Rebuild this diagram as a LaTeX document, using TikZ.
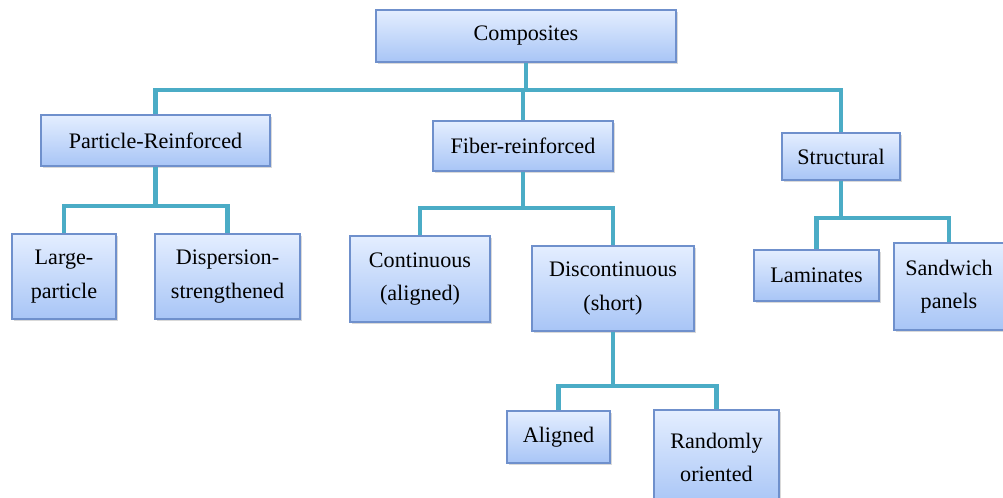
\documentclass[tikz,border=0pt]{standalone}
\usepackage{fontspec}
\setmainfont{Liberation Serif}
\usepackage{xcolor}
\usepackage{tikz}
\usetikzlibrary{shadows}

\definecolor{boxtop}{HTML}{E4EEFF}
\definecolor{boxbot}{HTML}{A8C5F6}
\definecolor{boxline}{HTML}{6F90CC}
\definecolor{linkcol}{HTML}{4BACC6}

\begin{document}
\begin{tikzpicture}[
  every node/.style={font=\fontsize{12.6}{19}\selectfont},
  box/.style={rectangle, draw=boxline, line width=0.6pt, top color=boxtop, bottom color=boxbot,
              drop shadow={shadow xshift=1.2pt, shadow yshift=-1.2pt, opacity=0.3},
              inner sep=2pt, align=center},
  link/.style={draw=linkcol, line width=2.8pt},
]
\useasboundingbox (0,0) rectangle (20.06,-9.96);
% top level
\node[box, minimum width=6.0cm, minimum height=1.04cm] (comp) at (10.52,-0.72) {Composites};
% second level
\node[box, minimum width=4.58cm, minimum height=1.02cm] (part) at (3.11,-2.81) {Particle-Reinforced};
\node[box, minimum width=3.6cm, minimum height=1.0cm] (fiber) at (10.46,-2.92) {Fiber-reinforced};
\node[box, minimum width=2.36cm, minimum height=0.94cm] (struct) at (16.82,-3.13) {Structural};
% third level
\node[box, minimum width=2.08cm, minimum height=1.7cm] (large) at (1.28,-5.53) {Large-\\particle};
\node[box, minimum width=2.9cm, minimum height=1.7cm] (disp) at (4.55,-5.53) {Dispersion-\\strengthened};
\node[box, minimum width=2.8cm, minimum height=1.72cm] (cont) at (8.4,-5.58) {Continuous\\(aligned)};
\node[box, minimum width=3.24cm, minimum height=1.7cm] (disc) at (12.26,-5.77) {Discontinuous\\(short)};
\node[box, minimum width=2.5cm, minimum height=1.02cm] (lam) at (16.33,-5.51) {Laminates};
\node[box, minimum width=2.2cm, minimum height=1.74cm] (sand) at (18.98,-5.73) {Sandwich\\panels};
% fourth level
\node[box, minimum width=2.06cm, minimum height=1.04cm] (al) at (11.17,-8.74) {Aligned};
\node[box, minimum width=2.5cm, minimum height=1.9cm] (rand) at (14.33,-9.15) {Randomly\\oriented};

% connectors
\draw[link] (comp.south) -- (comp.south |- 0,-1.8) -| (part.north);
\draw[link] (comp.south |- 0,-1.8) -| (struct.north);
\draw[link] (fiber.north |- 0,-1.8) -- (fiber.north);
\draw[link] (part.south) |- (large.north |- 0,-4.12) -- (large.north);
\draw[link] (part.south |- 0,-4.12) -| (disp.north);
\draw[link] (fiber.south) |- (cont.north |- 0,-4.16) -- (cont.north);
\draw[link] (fiber.south |- 0,-4.16) -| (disc.north);
\draw[link] (struct.south) |- (lam.north |- 0,-4.36) -- (lam.north);
\draw[link] (struct.south |- 0,-4.36) -| (sand.north);
\draw[link] (disc.south) |- (al.north |- 0,-7.72) -- (al.north);
\draw[link] (disc.south |- 0,-7.72) -| (rand.north);
\end{tikzpicture}
\end{document}
